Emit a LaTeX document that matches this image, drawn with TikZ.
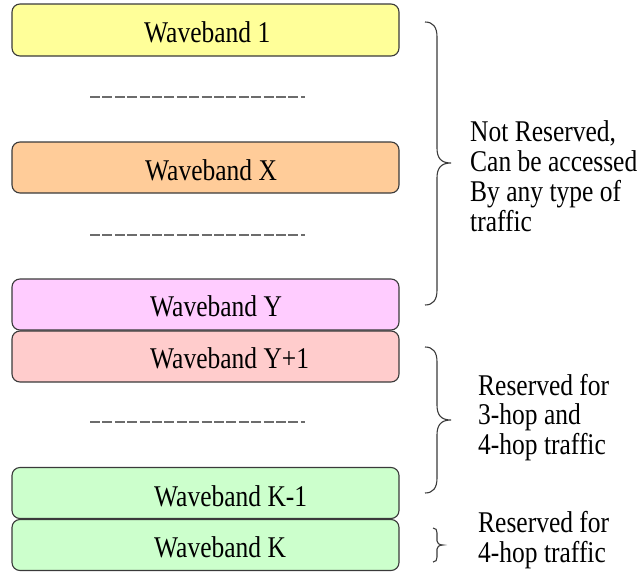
\documentclass[tikz,border=0pt]{standalone}
\usepackage{fontspec}
\usepackage{graphicx}
\setmainfont{Liberation Serif}
\newcommand{\tallbox}[1]{\scalebox{1}[1.18]{#1}}
\newcommand{\lines}[1]{\tallbox{\begin{tabular}[t]{@{}l@{}}#1\end{tabular}}}
\definecolor{bandyellow}{HTML}{FFFF99}
\definecolor{bandorange}{HTML}{FFCC99}
\definecolor{bandpink}{HTML}{FFCCFF}
\definecolor{bandsalmon}{HTML}{FFCCCC}
\definecolor{bandgreen}{HTML}{CCFFCC}
\definecolor{edge}{HTML}{3A3A3A}
\begin{document}
\begin{tikzpicture}[x=1pt,y=-1pt,
  band/.style={draw=edge, line width=1.1pt, rounded corners=8pt,
    minimum width=387pt, minimum height=51pt, inner sep=0pt},
  bandtext/.style={anchor=base west, inner sep=0pt,
    font=\fontsize{25.5}{25}\selectfont},
  note/.style={anchor=base west, inner sep=0pt,
    font=\fontsize{25.5}{25}\selectfont},
  gap/.style={draw=gray!85!black, line width=1.4pt, dash pattern=on 10pt off 2.4pt},
  curly/.style={draw=edge, line width=1.1pt}
]
\useasboundingbox (0,0) rectangle (640,573);

% wavebands
\node[band, fill=bandyellow, minimum height=52pt] (w1)  at (205.5,30)    {};
\node[band, fill=bandorange] (wx)  at (205.5,167.5) {};
\node[band, fill=bandpink]   (wy)  at (205.5,304.5) {};
\node[band, fill=bandsalmon] (wy1) at (205.5,356.5) {};
\node[band, fill=bandgreen]  (wk1) at (205.5,493)   {};
\node[band, fill=bandgreen]  (wk)  at (205.5,545)   {};

\node[bandtext] (t1)  at (144,42)    {\tallbox{Waveband 1}};
\node[bandtext] (tx)  at (145,180)   {\tallbox{Waveband X}};
\node[bandtext] (ty)  at (150,316.7) {\tallbox{Waveband Y}};
\node[bandtext] (ty1) at (150,368)   {\tallbox{Waveband Y+1}};
\node[bandtext] (tk1) at (154,506)   {\tallbox{Waveband K-1}};
\node[bandtext] (tk)  at (154,557)   {\tallbox{Waveband K}};

% elided wavebands
\draw[gap] (90,97)  -- (305,97);
\draw[gap] (90,235) -- (305,235);
\draw[gap] (90,422) -- (305,422);

% braces
\draw[curly] (425,22) .. controls (433,22) and (437,27) .. (437,37)
  -- (437,148) .. controls (437,158) and (441,163) .. (451,163)
  .. controls (441,163) and (437,168) .. (437,178)
  -- (437,290) .. controls (437,300) and (433,305) .. (425,305);
\draw[curly] (425,347) .. controls (433,347) and (437,352) .. (437,362)
  -- (437,405) .. controls (437,415) and (441,420) .. (451,420)
  .. controls (441,420) and (437,425) .. (437,435)
  -- (437,478) .. controls (437,488) and (433,493) .. (425,493);
\draw[curly] (433,528) .. controls (436,528) and (437,530) .. (437,533)
  -- (437,541) .. controls (437,543) and (439,545) .. (443,545)
  .. controls (439,545) and (437,547) .. (437,549)
  -- (437,557) .. controls (437,560) and (436,562) .. (433,562);

% brace labels
\node[note] (free) at (470,141.7)
  {\lines{Not Reserved,\\Can be accessed\\By any type of\\traffic}};
\node[note] (res34) at (478,395)
  {\lines{Reserved for\\3-hop and\\4-hop traffic}};
\node[note] (res4) at (478,532)
  {\lines{Reserved for\\4-hop traffic}};
\end{tikzpicture}
\end{document}
